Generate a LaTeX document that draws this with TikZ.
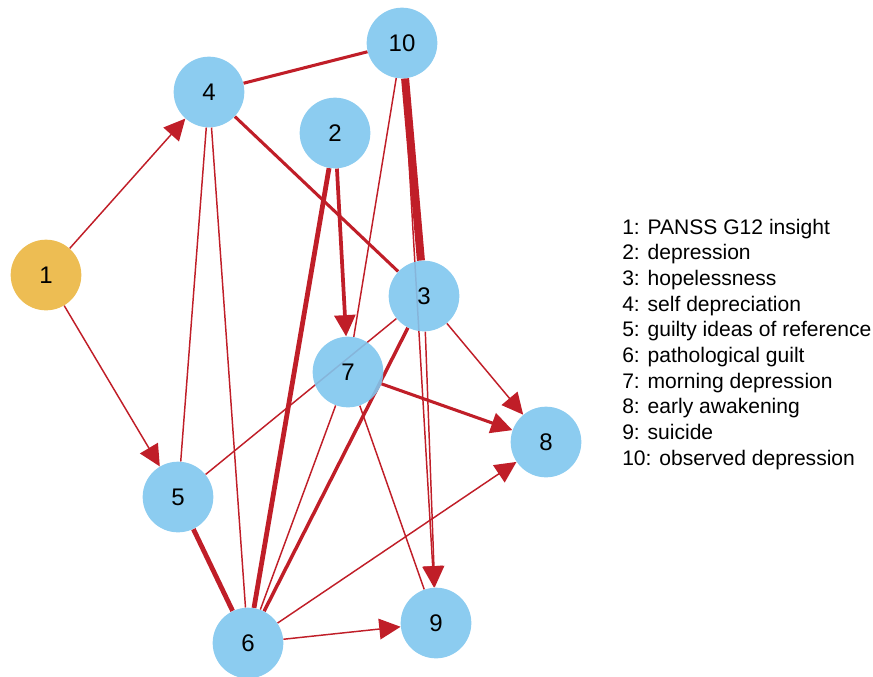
\documentclass[tikz,border=0pt]{standalone}
\usepackage{fontspec}
\setmainfont{Liberation Sans}
\usetikzlibrary{arrows.meta,backgrounds}

\definecolor{nodeBlue}{RGB}{128,198,238}
\definecolor{insightOrange}{RGB}{235,182,64}
\definecolor{linkRed}{RGB}{192,30,40}

\tikzset{
    symptom/.style = {circle, fill = nodeBlue, fill opacity = 0.9, text opacity = 1, minimum size = 53pt, inner sep = 0pt, font = \fontsize{18}{20}\selectfont},
    link/.style = {draw = linkRed, line width = 1.1pt},
    arrowLink/.style = {link, -{Triangle[length = 16pt, width = 15.5pt]}},
    legendText/.style = {anchor = base west, inner sep = 0pt, font = \fontsize{15.8}{18}\selectfont}
}

\begin{document}
\begin{tikzpicture}[x = 0.75pt, y = -0.75pt]
    \useasboundingbox (0,0) rectangle (873,676);

    \node[symptom, fill = insightOrange](insight) at (46,275) {1};
    \node[symptom](depression) at (335,133) {2};
    \node[symptom](hopelessness) at (424,296) {3};
    \node[symptom](selfDepreciation) at (209,92) {4};
    \node[symptom](guiltyIdeas) at (178,497) {5};
    \node[symptom](pathologicalGuilt) at (248,643) {6};
    \node[symptom](morningDepression) at (348,372) {7};
    \node[symptom](earlyAwakening) at (546,442) {8};
    \node[symptom](suicide) at (436,623) {9};
    \node[symptom](observedDepression) at (402,43) {10};

    \begin{pgfonlayer}{background}
    % undirected links
    \draw [link, line width = 6pt] (observedDepression) -- (hopelessness);
    \draw [link, line width = 2.3pt] (selfDepreciation) -- (observedDepression);
    \draw [link, line width = 2.3pt] (selfDepreciation) -- (hopelessness);
    \draw [link] (selfDepreciation) -- (guiltyIdeas);
    \draw [link] (selfDepreciation) -- (pathologicalGuilt);
    \draw [link] (observedDepression) -- (morningDepression);
    \draw [link, line width = 3.6pt] (depression) -- (pathologicalGuilt);
    \draw [link] (hopelessness) -- (guiltyIdeas);
    \draw [link, line width = 2.6pt] (hopelessness) -- (pathologicalGuilt);
    \draw [link] (morningDepression) -- (pathologicalGuilt);
    \draw [link] (morningDepression) -- (suicide);
    \draw [link, line width = 3.6pt] (guiltyIdeas) -- (pathologicalGuilt);

    % directed links
    \draw [arrowLink] (insight) -- (selfDepreciation);
    \draw [arrowLink] (insight) -- (guiltyIdeas);
    \draw [arrowLink, line width = 2.8pt] (depression) -- (morningDepression);
    \draw [arrowLink] (hopelessness) -- (earlyAwakening);
    \draw [arrowLink, line width = 2.3pt] (morningDepression) -- (earlyAwakening);
    \draw [arrowLink] (pathologicalGuilt) -- (earlyAwakening);
    \draw [arrowLink] (pathologicalGuilt) -- (suicide);
    \draw [arrowLink] (hopelessness) -- (suicide);
    \draw [arrowLink] (observedDepression) -- (suicide);
    \end{pgfonlayer}

    \foreach \lbl [count = \i from 0] in {1: PANSS G12 insight, 2: depression, 3: hopelessness, 4: self depreciation, 5: guilty ideas of reference, 6: pathological guilt, 7: morning depression, 8: early awakening, 9: suicide, 10: observed depression}
        \node[legendText](legend\i) at (622, 234+25.7*\i) {\lbl};
\end{tikzpicture}
\end{document}
